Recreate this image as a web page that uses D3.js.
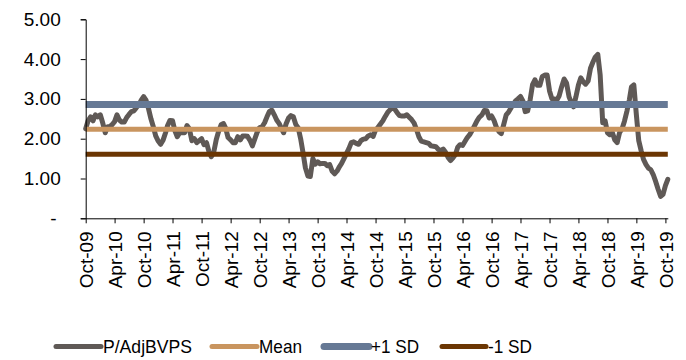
<!DOCTYPE html>
<html><head><meta charset="utf-8">
<script src="https://cdn.jsdelivr.net/npm/d3@7/dist/d3.min.js"></script>
<style>body{margin:0;background:#fff}svg{display:block}text{font-family:"Liberation Sans",Arial,sans-serif;fill:#000}</style>
</head><body><svg id="c" width="686" height="360"></svg>
<script>
const dates = [
"2009-10-01","2009-10-16","2009-11-01","2009-11-16","2009-12-01","2009-12-16",
"2010-01-01","2010-01-16","2010-02-01","2010-02-16","2010-03-01","2010-03-16","2010-04-01","2010-04-16","2010-05-01","2010-05-16","2010-06-01","2010-06-16","2010-07-01","2010-07-16","2010-08-01","2010-08-16","2010-09-01","2010-09-16","2010-10-01","2010-10-16","2010-11-01","2010-11-16","2010-12-01","2010-12-16",
"2011-01-01","2011-01-16","2011-02-01","2011-02-16","2011-03-01","2011-03-16","2011-04-01","2011-04-16","2011-05-01","2011-05-16","2011-06-01","2011-06-16","2011-07-01","2011-07-16","2011-08-01","2011-08-16","2011-09-01","2011-09-16","2011-10-01","2011-10-16","2011-11-01","2011-11-16","2011-12-01","2011-12-16",
"2012-01-01","2012-01-16","2012-02-01","2012-02-16","2012-03-01","2012-03-16","2012-04-01","2012-04-16","2012-05-01","2012-05-16","2012-06-01","2012-06-16","2012-07-01","2012-07-16","2012-08-01","2012-08-16","2012-09-01","2012-09-16","2012-10-01","2012-10-16","2012-11-01","2012-11-16","2012-12-01","2012-12-16",
"2013-01-01","2013-01-16","2013-02-01","2013-02-16","2013-03-01","2013-03-16","2013-04-01","2013-04-16","2013-05-01","2013-05-16","2013-06-01","2013-06-16","2013-07-01","2013-07-16","2013-08-01","2013-08-16","2013-09-01","2013-09-16","2013-10-01","2013-10-16","2013-11-01","2013-11-16","2013-12-01","2013-12-16",
"2014-01-01","2014-01-16","2014-02-01","2014-02-16","2014-03-01","2014-03-16","2014-04-01","2014-04-16","2014-05-01","2014-05-16","2014-06-01","2014-06-16","2014-07-01","2014-07-16","2014-08-01","2014-08-16","2014-09-01","2014-09-16","2014-10-01","2014-10-16","2014-11-01","2014-11-16","2014-12-01","2014-12-16",
"2015-01-01","2015-01-16","2015-02-01","2015-02-16","2015-03-01","2015-03-16","2015-04-01","2015-04-16","2015-05-01","2015-05-16","2015-06-01","2015-06-16","2015-07-01","2015-07-16","2015-08-01","2015-08-16","2015-09-01","2015-09-16","2015-10-01","2015-10-16","2015-11-01","2015-11-16","2015-12-01","2015-12-16",
"2016-01-01","2016-01-16","2016-02-01","2016-02-16","2016-03-01","2016-03-16","2016-04-01","2016-04-16","2016-05-01","2016-05-16","2016-06-01","2016-06-16","2016-07-01","2016-07-16","2016-08-01","2016-08-16","2016-09-01","2016-09-16","2016-10-01","2016-10-16","2016-11-01","2016-11-16","2016-12-01","2016-12-16",
"2017-01-01","2017-01-16","2017-02-01","2017-02-16","2017-03-01","2017-03-16","2017-04-01","2017-04-16","2017-05-01","2017-05-16","2017-06-01","2017-06-16","2017-07-01","2017-07-16","2017-08-01","2017-08-16","2017-09-01","2017-09-16","2017-10-01","2017-10-16","2017-11-01","2017-11-16","2017-12-01","2017-12-16",
"2018-01-01","2018-01-16","2018-02-01","2018-02-16","2018-03-01","2018-03-16","2018-04-01","2018-04-16","2018-05-01","2018-05-16","2018-06-01","2018-06-16","2018-07-01","2018-07-16","2018-08-01","2018-08-16","2018-09-01","2018-09-16","2018-10-01","2018-10-16","2018-11-01","2018-11-16","2018-12-01","2018-12-16",
"2019-01-01","2019-01-16","2019-02-01","2019-02-16","2019-03-01","2019-03-16","2019-04-01","2019-04-16","2019-05-01","2019-05-16","2019-06-01","2019-06-16","2019-07-01","2019-07-16","2019-08-01","2019-08-16","2019-09-01","2019-09-16","2019-10-01","2019-10-16"
];
const pAdjBVPS = [
2.25,2.45,2.55,2.45,2.6,2.55,2.6,2.4,2.15,2.3,
2.3,2.35,2.43,2.6,2.47,2.42,2.42,2.53,2.61,2.68,
2.7,2.78,2.85,2.97,3.06,2.97,2.75,2.5,2.3,2.07,
1.94,1.86,1.97,2.15,2.33,2.46,2.45,2.2,2.05,2.15,
2.15,2.15,2.33,2.25,1.95,2.0,1.9,1.95,2.0,1.85,
1.9,1.68,1.55,1.65,1.97,2.18,2.35,2.38,2.26,2.03,
1.97,1.9,1.9,2.05,1.97,2.07,2.07,2.06,1.96,1.82,
2.0,2.17,2.28,2.3,2.4,2.55,2.68,2.72,2.6,2.47,
2.38,2.25,2.15,2.37,2.52,2.58,2.55,2.36,2.27,2.0,
1.65,1.27,1.06,1.05,1.5,1.36,1.42,1.37,1.38,1.38,
1.32,1.35,1.18,1.12,1.19,1.3,1.38,1.5,1.63,1.75,
1.9,1.92,1.88,1.86,1.95,1.99,2.0,2.07,2.1,2.06,
2.22,2.28,2.37,2.45,2.56,2.66,2.73,2.78,2.73,2.64,
2.58,2.57,2.57,2.6,2.54,2.48,2.39,2.23,2.05,1.94,
1.92,1.9,1.88,1.82,1.81,1.8,1.73,1.7,1.74,1.66,
1.53,1.45,1.52,1.6,1.78,1.85,1.83,1.93,2.03,2.1,
2.21,2.33,2.45,2.54,2.6,2.71,2.7,2.52,2.57,2.46,
2.28,2.18,2.13,2.35,2.6,2.67,2.78,2.87,2.95,3.0,
3.06,2.95,2.68,2.7,2.98,3.36,3.48,3.34,3.34,3.56,
3.6,3.6,3.2,3.0,3.0,2.97,3.08,3.3,3.5,3.4,
3.05,2.9,2.8,3.05,3.35,3.53,3.43,3.37,3.45,3.77,
3.92,4.05,4.12,3.6,2.4,2.45,2.15,2.1,2.15,1.97,
1.9,2.15,2.25,2.44,2.7,2.98,3.3,3.35,2.6,1.95,
1.7,1.48,1.35,1.26,1.22,1.1,0.92,0.73,0.55,0.6,
0.82,0.98
];
const meanValue = 2.24;
const plusSD = 2.86;
const minusSD = 1.61;
const yTicks = [0, 1, 2, 3, 4, 5];
const xTickLabels = ["Oct-09","Apr-10","Oct-10","Apr-11","Oct-11","Apr-12","Oct-12","Apr-13","Oct-13","Apr-14","Oct-14","Apr-15","Oct-15","Apr-16","Oct-16","Apr-17","Oct-17","Apr-18","Oct-18","Apr-19","Oct-19"];
const seriesNames = ["P/AdjBVPS","Mean","+1 SD","-1 SD"];
const colors = {"P/AdjBVPS":"#5f5956","Mean":"#c9955f","+1 SD":"#667995","-1 SD":"#6b3603"};
const widths = {"P/AdjBVPS":5,"Mean":5,"+1 SD":7,"-1 SD":5};

const parse = d3.timeParse("%Y-%m-%d");
const data = dates.map((d,i)=>({date:parse(d), v:pAdjBVPS[i]}));

const svg = d3.select("#c");
svg.append("rect").attr("width",686).attr("height",360).attr("fill","#fff");

const x = d3.scaleTime().domain([data[0].date, data[data.length-1].date]).range([85.7, 667.8]);
const y = d3.scaleLinear().domain([0,5]).range([218.3, 19.3]);

// data line
const line = d3.line().x(d=>x(d.date)).y(d=>y(d.v)).curve(d3.curveLinear);
svg.append("path").datum(data).attr("d",line).attr("fill","none")
  .attr("stroke",colors["P/AdjBVPS"]).attr("stroke-width",widths["P/AdjBVPS"])
  .attr("stroke-linejoin","round").attr("stroke-linecap","round");

// horizontal reference lines
const refs = [["Mean",meanValue],["+1 SD",plusSD],["-1 SD",minusSD]];
refs.forEach(([name,val])=>{
  svg.append("line").attr("x1",x.range()[0]).attr("x2",x.range()[1])
    .attr("y1",y(val)).attr("y2",y(val))
    .attr("stroke",colors[name]).attr("stroke-width",widths[name]);
});

// y axis
const yAxis = d3.axisLeft(y).tickValues(yTicks).tickSizeOuter(0).tickSize(5).tickPadding(20)
  .tickFormat(v=> v===0 ? "-" : d3.format(".2f")(v));
const gy = svg.append("g").attr("transform","translate(85.7,0)").call(yAxis);
gy.select(".domain").attr("stroke","#000");
gy.selectAll(".tick line").attr("stroke","#000");
gy.selectAll(".tick text").attr("font-size","19px").attr("fill","#000")
  .attr("font-family","Liberation Sans, Arial, sans-serif")
  .attr("dx", v=> v===0 ? -4 : 0);

// x axis
const tickDates = xTickLabels.map(s=>d3.timeParse("%b-%y")(s));
const xAxis = d3.axisBottom(x).tickValues(tickDates).tickSize(5).tickSizeOuter(0)
  .tickFormat((d,i)=>xTickLabels[i]);
const gx = svg.append("g").attr("transform","translate(0,218.3)").call(xAxis);
gx.select(".domain").attr("stroke","#000");
gx.selectAll(".tick line").attr("stroke","#000");
gx.selectAll(".tick text").attr("font-size","19px").attr("fill","#000")
  .attr("font-family","Liberation Sans, Arial, sans-serif")
  .attr("text-anchor","end").attr("transform","rotate(-90)")
  .attr("x",-13).attr("y",0).attr("dy","0.35em");

// legend
const legendItems = [
  {name:"P/AdjBVPS", x1:56, x2:101, w:89},
  {name:"Mean", x1:212, x2:257, w:43},
  {name:"+1 SD", x1:324, x2:369, w:48},
  {name:"-1 SD", x1:442, x2:486, w:44}
];
const ly = 346.5;
const lg = svg.append("g");
legendItems.forEach(it=>{
  lg.append("line").attr("x1",it.x1).attr("x2",it.x2).attr("y1",ly).attr("y2",ly)
    .attr("stroke",colors[it.name]).attr("stroke-width",widths[it.name]).attr("stroke-linecap","round");
  lg.append("text").attr("x",it.x2+2).attr("y",ly).attr("dy","0.35em")
    .attr("font-size","19px").attr("textLength",it.w).attr("lengthAdjust","spacingAndGlyphs")
    .text(it.name);
});
</script></body></html>
